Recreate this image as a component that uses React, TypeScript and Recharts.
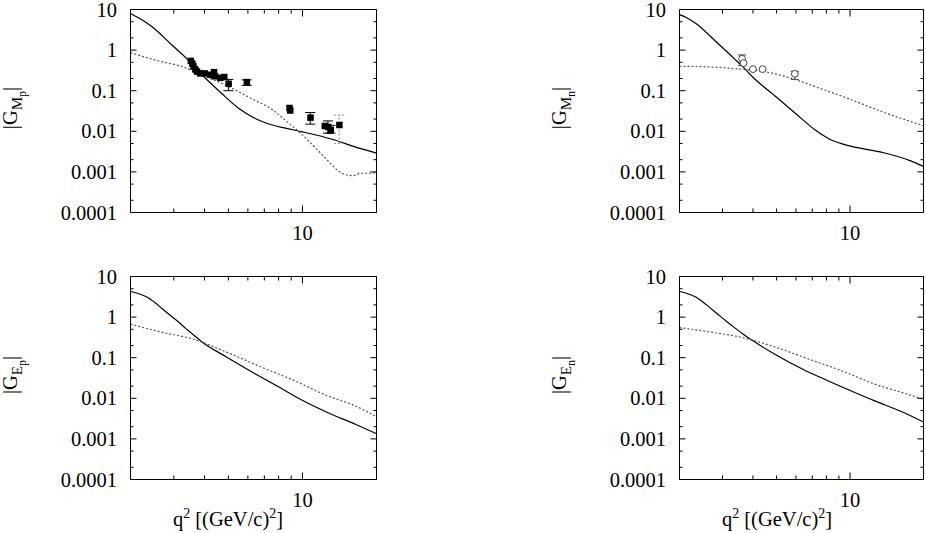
import React from "react";
import {
  ComposedChart,
  Line,
  Scatter,
  ErrorBar,
  XAxis,
  YAxis,
  ReferenceArea,
} from "recharts";

// q^2 ticks (minor ones unlabeled, only 10 gets a label)
export const xTicks = [3, 4, 5, 6, 7, 8, 9, 10];
export const yMajor = [0.0001, 0.001, 0.01, 0.1, 1, 10];
export const yMajorLabels = ["0.0001", "0.001", "0.01", "0.1", "1", "10"];
export const yMinor = [0.0002, 0.0005, 0.002, 0.005, 0.02, 0.05, 0.2, 0.5, 2, 5];

// |G_Mp|
export const gmpSolidQ = [2, 2.2, 2.44, 2.94, 3.43, 3.98, 4.7, 5.5, 6.4, 7.1, 8.6, 10, 13.4, 16, 20];
export const gmpSolid = [8.0, 5.8, 3.8, 1.35, 0.57, 0.22, 0.085, 0.037, 0.021, 0.016, 0.0118, 0.0097, 0.0062, 0.0043, 0.0029];
export const gmpDottedQ = [2, 2.6, 3.25, 3.5, 3.95, 5.2, 6.2, 7.6, 8.35, 9.7, 11.4, 12.9, 14.1, 15, 16.1, 17.1, 18.5, 20];
export const gmpDotted = [0.86, 0.54, 0.39, 0.33, 0.24, 0.113, 0.064, 0.033, 0.0206, 0.0096, 0.0037, 0.0017, 0.00102, 0.00085, 0.00081, 0.00092, 0.00093, 0.00095];
export const gmpDataQ = [3.51, 3.56, 3.6, 3.66, 3.72, 3.83, 4.0, 4.21, 4.36, 4.4, 4.62, 4.8, 8.84, 8.9, 12.3];
export const gmpData = [0.55, 0.47, 0.4, 0.34, 0.3, 0.27, 0.27, 0.25, 0.29, 0.23, 0.21, 0.22, 0.038, 0.033, 0.0137];
export const gmpErrQ = [5.0, 5.93, 10.76, 12.7, 13.0];
export const gmpErr = [0.15, 0.165, 0.022, 0.013, 0.011];
export const gmpErrLow = [0.1, 0.135, 0.015, 0.009, 0.009];
export const gmpErrHigh = [0.19, 0.185, 0.029, 0.018, 0.014];
export const gmpGreyQ = [14.1];
export const gmpGrey = [0.0145];
export const gmpGreyLow = [0.005];
export const gmpGreyHigh = [0.025];

// |G_Mn|
export const gmnSolidQ = [2, 2.15, 2.35, 2.84, 3.36, 3.65, 4.0, 5.0, 6.0, 7.25, 8.25, 9.3, 10.6, 13.6, 17.6, 20];
export const gmnSolid = [7.5, 6.2, 4.4, 1.56, 0.61, 0.38, 0.214, 0.069, 0.027, 0.0104, 0.0064, 0.0049, 0.004, 0.003, 0.0019, 0.00137];
export const gmnDottedQ = [2, 2.67, 3.54, 4.4, 5.85, 7.5, 9.9, 13.6, 20];
export const gmnDotted = [0.4, 0.385, 0.34, 0.3, 0.195, 0.115, 0.063, 0.03, 0.0137];
export const gmnDataQ = [3.66, 4.0, 4.38];
export const gmnData = [0.48, 0.34, 0.34];
export const gmnErrQ = [3.61, 5.94];
export const gmnErr = [0.61, 0.26];
export const gmnErrLow = [0.42, 0.19];
export const gmnErrHigh = [0.76, 0.3];

// |G_Ep|
export const gepSolidQ = [2, 2.15, 2.35, 2.58, 2.83, 3.12, 3.36, 3.65, 3.86, 4.97, 6.39, 7.89, 9.85, 12.7, 16.4, 20];
export const gepSolid = [4.27, 3.81, 3.03, 2.0, 1.24, 0.776, 0.52, 0.344, 0.259, 0.1, 0.041, 0.02, 0.0093, 0.0044, 0.0023, 0.00134];
export const gepDottedQ = [2, 2.66, 3.64, 4.97, 6.8, 9.3, 12.7, 16.4, 20];
export const gepDotted = [0.67, 0.43, 0.28, 0.133, 0.059, 0.027, 0.0114, 0.0065, 0.0035];

// |G_En|
export const genSolidQ = [2, 2.15, 2.35, 2.58, 2.84, 3.12, 3.36, 3.65, 4.0, 5.0, 6.4, 7.9, 9.9, 12.7, 16.4, 20];
export const genSolid = [4.27, 3.81, 3.03, 2.0, 1.24, 0.776, 0.55, 0.38, 0.26, 0.115, 0.052, 0.029, 0.016, 0.0085, 0.0046, 0.0026];
export const genDottedQ = [2, 2.67, 3.65, 5.0, 6.8, 9.3, 12.7, 16.4, 20];
export const genDotted = [0.55, 0.43, 0.31, 0.178, 0.092, 0.047, 0.022, 0.0138, 0.0094];

const FONT = '"Liberation Serif", "DejaVu Serif", serif';
const PLOT_H = 203;
const FS = 20.5;

type Geom = {
  left: number;
  top: number;
  width: number;
  height: number;
  yAxisW: number;
  plotW: number;
  marginTop: number;
};

const pts = (q: number[], v: number[]) => q.map((x, i) => ({ x, y: v[i] }));
const errPts = (q: number[], v: number[], lo: number[], hi: number[]) =>
  q.map((x, i) => ({ x, y: v[i], err: [v[i] - lo[i], hi[i] - v[i]] }));

function renderXTick(p: any, g: Geom) {
  const x = p.x;
  const top = g.marginTop;
  const bottom = g.marginTop + PLOT_H;
  const major = p.payload.value === 10;
  const len = major ? 7 : 4;
  return (
    <g>
      <line x1={x} x2={x} y1={bottom} y2={bottom - len} stroke="#000" />
      <line x1={x} x2={x} y1={top} y2={top + len} stroke="#000" />
      {major && (
        <text x={x} y={bottom + 27} textAnchor="middle" fontSize={FS} fontFamily={FONT} fill="#000">
          10
        </text>
      )}
    </g>
  );
}

function renderYTick(p: any, g: Geom) {
  const y = p.y;
  const left = g.yAxisW;
  const right = g.yAxisW + g.plotW;
  const idx = yMajor.indexOf(p.payload.value);
  const len = idx >= 0 ? 6 : 3;
  return (
    <g>
      <line x1={left} x2={left + len} y1={y} y2={y} stroke="#000" />
      <line x1={right} x2={right - len} y1={y} y2={y} stroke="#000" />
      {idx >= 0 && (
        <text x={left - 13.5} y={y + 7} textAnchor="end" fontSize={FS} fontFamily={FONT} fill="#000">
          {yMajorLabels[idx]}
        </text>
      )}
    </g>
  );
}

function YTitle(props: any) {
  const { cx, cy, main, sub } = props;
  return (
    <text
      transform={`rotate(-90 ${cx} ${cy})`}
      x={cx}
      y={cy}
      textAnchor="middle"
      fontSize={FS}
      fontFamily={FONT}
      fill="#000"
    >
      |G
      <tspan fontSize={15} dy={5}>{main}</tspan>
      <tspan fontSize={12} dy={4}>{sub}</tspan>
      <tspan fontSize={FS} dy={-9}>|</tspan>
    </text>
  );
}

function XTitle(props: any) {
  const { cx, baseline } = props;
  return (
    <text x={cx} y={baseline} textAnchor="middle" fontSize={FS} fontFamily={FONT} fill="#000">
      q
      <tspan fontSize={14} dy={-8}>2</tspan>
      <tspan dy={8}>{"\u00a0[(GeV/c)"}</tspan>
      <tspan fontSize={14} dy={-8}>2</tspan>
      <tspan dy={8}>]</tspan>
    </text>
  );
}

const square = (p: any) => <rect x={p.cx - 3} y={p.cy - 3} width={6.5} height={6.5} fill="#000" />;
const circle = (p: any) => <circle cx={p.cx} cy={p.cy} r={3.4} fill="#fff" stroke="#444" strokeWidth={1} />;

type PanelProps = {
  g: Geom;
  solid: { x: number; y: number }[];
  dotted: { x: number; y: number }[];
  yMain: string;
  ySub: string;
  xTitle?: boolean;
  children?: React.ReactNode;
};

function Panel({ g, solid, dotted, yMain, ySub, xTitle, children }: PanelProps) {
  const xAxisH = g.height - g.marginTop - PLOT_H;
  return (
    <div style={{ position: "absolute", left: g.left, top: g.top }}>
      <ComposedChart
        width={g.width}
        height={g.height}
        margin={{ top: g.marginTop, right: g.width - g.yAxisW - g.plotW, left: 0, bottom: 0 }}
      >
        <XAxis
          type="number"
          dataKey="x"
          scale="log"
          domain={[2, 20]}
          allowDataOverflow
          ticks={xTicks}
          interval={0}
          height={xAxisH}
          axisLine={false}
          tickLine={false}
          tick={(p: any) => renderXTick(p, g)}
          label={
            xTitle ? (
              <XTitle cx={g.yAxisW + 97.5} baseline={g.marginTop + PLOT_H + 46} />
            ) : undefined
          }
        />
        <YAxis
          type="number"
          dataKey="y"
          scale="log"
          domain={[0.0001, 10]}
          allowDataOverflow
          ticks={[...yMajor, ...yMinor]}
          interval={0}
          width={g.yAxisW}
          axisLine={false}
          tickLine={false}
          tick={(p: any) => renderYTick(p, g)}
          label={<YTitle cx={17} cy={g.marginTop + PLOT_H / 2 - 3} main={yMain} sub={ySub} />}
        />
        <ReferenceArea
          x1={2}
          x2={20}
          y1={0.0001}
          y2={10}
          fill="none"
          stroke="#000"
          strokeWidth={1}
          ifOverflow="visible"
        />
        <Line
          data={solid}
          dataKey="y"
          type="monotone"
          stroke="#000"
          strokeWidth={1.2}
          dot={false}
          isAnimationActive={false}
        />
        <Line
          data={dotted}
          dataKey="y"
          type="monotone"
          stroke="#555"
          strokeWidth={1.2}
          strokeDasharray="2 2"
          dot={false}
          isAnimationActive={false}
        />
        {children}
      </ComposedChart>
    </div>
  );
}

const gTL: Geom = { left: 0, top: 0, width: 380, height: 245, yAxisW: 130.5, plotW: 246, marginTop: 9.5 };
const gTR: Geom = { left: 549, top: 0, width: 377, height: 245, yAxisW: 130.5, plotW: 244, marginTop: 9.5 };
const gBL: Geom = { left: 0, top: 250, width: 380, height: 283, yAxisW: 130.5, plotW: 246, marginTop: 26.5 };
const gBR: Geom = { left: 549, top: 250, width: 377, height: 283, yAxisW: 130.5, plotW: 244, marginTop: 26.5 };

export default function App() {
  return (
    <div
      style={{
        position: "absolute",
        left: 0,
        top: 0,
        width: 926,
        height: 533,
        background: "#fff",
        fontFamily: FONT,
      }}
    >
      <Panel g={gTL} solid={pts(gmpSolidQ, gmpSolid)} dotted={pts(gmpDottedQ, gmpDotted)} yMain="M" ySub="p">
        <Scatter data={pts(gmpDataQ, gmpData)} dataKey="y" shape={square} isAnimationActive={false} />
        <Scatter
          data={errPts(gmpErrQ, gmpErr, gmpErrLow, gmpErrHigh)}
          dataKey="y"
          shape={square}
          isAnimationActive={false}
        >
          <ErrorBar dataKey="err" direction="y" width={5} stroke="#000" strokeWidth={1} />
        </Scatter>
        <Scatter
          data={errPts(gmpGreyQ, gmpGrey, gmpGreyLow, gmpGreyHigh)}
          dataKey="y"
          shape={square}
          isAnimationActive={false}
        >
          <ErrorBar dataKey="err" direction="y" width={5} stroke="#888" strokeWidth={1} strokeDasharray="2 2" />
        </Scatter>
      </Panel>
      <Panel g={gTR} solid={pts(gmnSolidQ, gmnSolid)} dotted={pts(gmnDottedQ, gmnDotted)} yMain="M" ySub="n">
        <Scatter
          data={errPts(gmnErrQ, gmnErr, gmnErrLow, gmnErrHigh)}
          dataKey="y"
          shape={circle}
          isAnimationActive={false}
        >
          <ErrorBar dataKey="err" direction="y" width={4} stroke="#444" strokeWidth={1} />
        </Scatter>
        <Scatter data={pts(gmnDataQ, gmnData)} dataKey="y" shape={circle} isAnimationActive={false} />
      </Panel>
      <Panel
        g={gBL}
        solid={pts(gepSolidQ, gepSolid)}
        dotted={pts(gepDottedQ, gepDotted)}
        yMain="E"
        ySub="p"
        xTitle
      />
      <Panel
        g={gBR}
        solid={pts(genSolidQ, genSolid)}
        dotted={pts(genDottedQ, genDotted)}
        yMain="E"
        ySub="n"
        xTitle
      />
    </div>
  );
}
